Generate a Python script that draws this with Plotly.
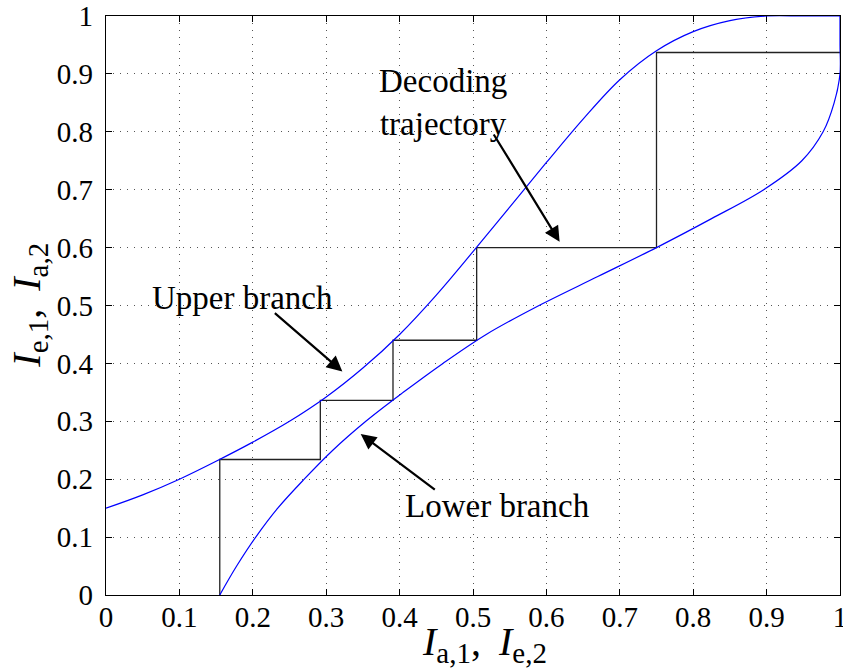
import plotly.graph_objects as go

# EXIT-chart branches and the decoding staircase between them
upper_x = [0, 0.05, 0.1, 0.15, 0.2, 0.25, 0.3, 0.35, 0.4, 0.45, 0.5,
           0.55, 0.6, 0.65, 0.7, 0.75, 0.8, 0.85, 0.9, 0.95, 1.0]
upper_y = [0.150, 0.173, 0.200, 0.231, 0.264, 0.300, 0.342, 0.392, 0.450, 0.518, 0.593,
           0.670, 0.747, 0.822, 0.890, 0.940, 0.973, 0.992, 1.0, 1.0, 1.0]

lower_y = [0, 0.05, 0.1, 0.15, 0.2, 0.25, 0.3, 0.35, 0.4, 0.45, 0.5,
           0.55, 0.6, 0.65, 0.7, 0.75, 0.8, 0.85, 0.9, 0.95, 1.0]
lower_x = [0.155, 0.178, 0.204, 0.234, 0.270, 0.309, 0.354, 0.405, 0.459, 0.518, 0.590,
           0.670, 0.750, 0.825, 0.896, 0.948, 0.977, 0.992, 1.0, 1.0, 1.0]

traj_x = [0.155, 0.155, 0.292, 0.292, 0.391, 0.391, 0.505, 0.505, 0.75, 0.75, 1.0]
traj_y = [0.0, 0.234, 0.234, 0.336, 0.336, 0.440, 0.440, 0.600, 0.600, 0.937, 0.937]

tick_vals = [0, 0.1, 0.2, 0.3, 0.4, 0.5, 0.6, 0.7, 0.8, 0.9, 1.0]
tick_text = ["0", "0.1", "0.2", "0.3", "0.4", "0.5", "0.6", "0.7", "0.8", "0.9", "1"]

FONT = "Liberation Serif"

fig = go.Figure()
fig.add_trace(go.Scatter(x=traj_x, y=traj_y, mode="lines",
                         line=dict(color="#222222", width=1.3), hoverinfo="skip"))
fig.add_trace(go.Scatter(x=upper_x, y=upper_y, mode="lines",
                         line=dict(color="#0000ff", width=1.2, shape="spline", smoothing=1.0)))
fig.add_trace(go.Scatter(x=lower_x, y=lower_y, mode="lines",
                         line=dict(color="#0000ff", width=1.2, shape="spline", smoothing=1.0)))

axis_common = dict(
    range=[0, 1], tickmode="array", tickvals=tick_vals, ticktext=tick_text,
    ticks="inside", ticklen=6, tickwidth=1, tickcolor="black",
    showline=True, linecolor="black", linewidth=1.2, mirror="ticks",
    showgrid=True, gridcolor="#555555", gridwidth=1, griddash="1px,6px",
    zeroline=False, layer="below traces", ticklabeloverflow="allow",
    automargin=False,
    tickfont=dict(family=FONT, size=29, color="black"),
)

fig.update_layout(
    width=843, height=668,
    margin=dict(l=106, r=3, t=16, b=73),
    paper_bgcolor="white", plot_bgcolor="white",
    showlegend=False,
    xaxis=dict(**axis_common, ticklabelstandoff=-4),
    yaxis=dict(**axis_common, ticklabelstandoff=6),
)


def sym(base, sub):
    return ('<i>%s</i><sub><span style="font-size:29px">%s</span></sub>' % (base, sub))


title_font = dict(family=FONT, size=40, color="black")
fig.add_annotation(xref="paper", yref="paper", x=0.516, y=-0.084,
                   text=sym("I", "a,1") + ",&#8201; " + sym("I", "e,2"),
                   showarrow=False, font=title_font, xanchor="center", yanchor="middle")
fig.add_annotation(xref="paper", yref="paper", x=-0.106, y=0.5, textangle=-90,
                   text=sym("I", "e,1") + ",&#8201; " + sym("I", "a,2"),
                   showarrow=False, font=title_font, xanchor="center", yanchor="middle")

text_font = dict(family=FONT, size=33, color="black")
arrow_style = dict(showarrow=True, arrowhead=2, arrowsize=1.4, arrowwidth=2.2,
                   arrowcolor="black", axref="x", ayref="y", text="", standoff=0)

# labels
fig.add_annotation(x=0.459, y=0.850, text="Decoding<br>trajectory", showarrow=False,
                   font=text_font, align="center", xanchor="center", yanchor="middle")
fig.add_annotation(x=0.1854, y=0.513, text="Upper branch", showarrow=False,
                   font=text_font, xanchor="center", yanchor="middle")
fig.add_annotation(x=0.534, y=0.154, text="Lower branch", showarrow=False,
                   font=text_font, xanchor="center", yanchor="middle")

# arrows pointing at the curves
fig.add_annotation(x=0.618, y=0.610, ax=0.527, ay=0.798, **arrow_style)
fig.add_annotation(x=0.322, y=0.386, ax=0.228, ay=0.489, **arrow_style)
fig.add_annotation(x=0.347, y=0.278, ax=0.450, ay=0.180, **arrow_style)

fig.write_html("out.html")
